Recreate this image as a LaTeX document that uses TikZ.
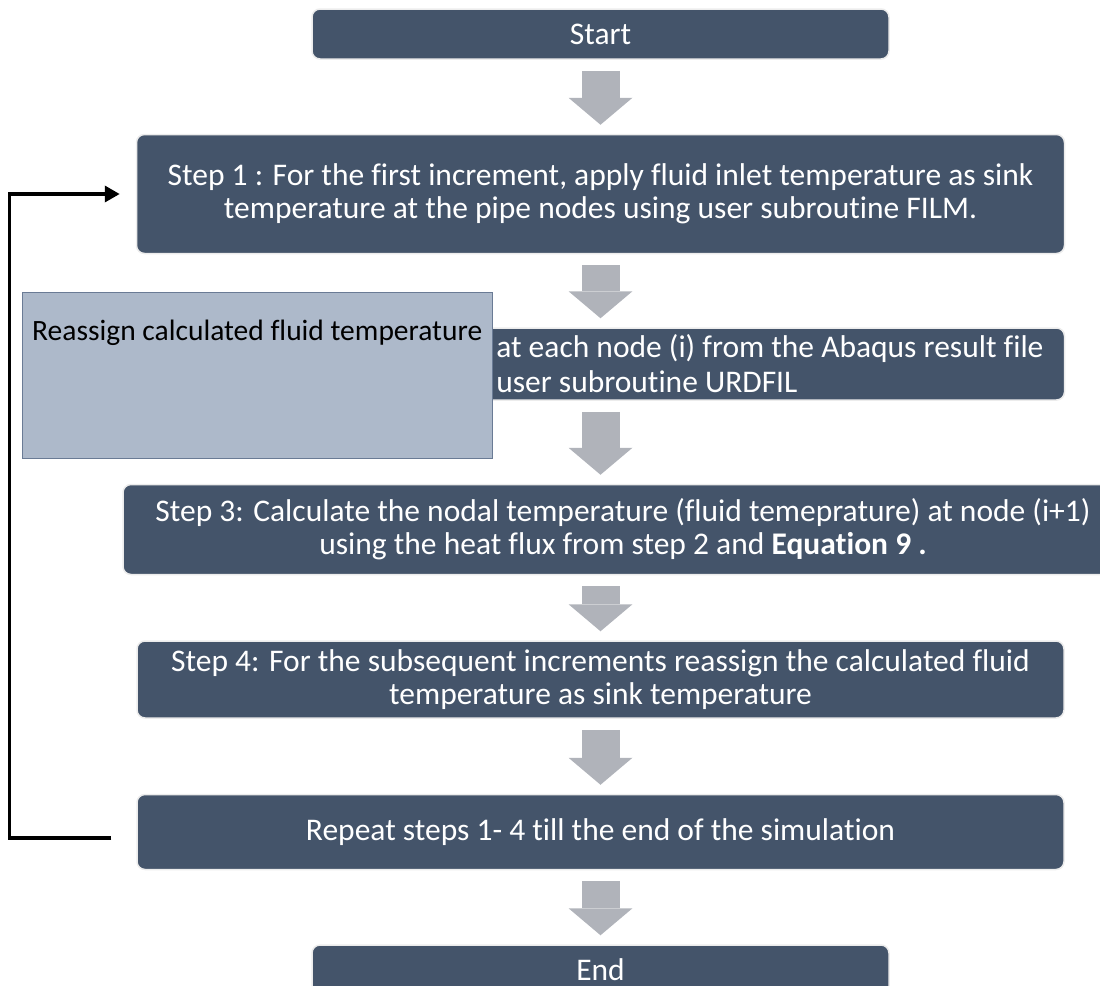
\documentclass[tikz,border=0pt]{standalone}
\usepackage{fontspec}
\setmainfont{Carlito}[Ligatures=NoCommon]
\usetikzlibrary{positioning,calc,arrows.meta}
\definecolor{boxblue}{HTML}{44546A}
\definecolor{noteblue}{HTML}{ADB9CA}
\definecolor{noteedge}{HTML}{6A7B95}
\definecolor{arrowgray}{HTML}{B0B3BA}
\tikzstyle{stepbox} = [rectangle, rounded corners=8pt, align=center, inner sep=3pt, draw=gray!15, line width=1.5pt, fill=boxblue, text=white, font=\fontsize{31.5}{33}\selectfont]
\tikzstyle{notebox} = [rectangle, draw=noteedge, line width=1pt, fill=noteblue]
\tikzstyle{blockarrow} = [draw=arrowgray, line width=38pt, -{Triangle[width=64pt,length=27pt,line width=0pt,fill=arrowgray]}, shorten <=11pt, shorten >=9pt]
\tikzstyle{loopline} = [line width=3.5pt, -{Triangle[length=15pt,width=16pt]}]

\begin{document}
\begin{tikzpicture}[x=1pt, y=1pt]
\useasboundingbox (0,0) rectangle (1100,-985);
\node (start) [stepbox, minimum width=577pt, minimum height=50pt] at (600.5,-34) {Start};
\node (step1) [stepbox, below=74pt of start, minimum width=928pt, minimum height=119pt] {Step 1 : For the first increment, apply fluid inlet temperature as sink\\temperature at the pipe nodes using user subroutine FILM.};
\node (step2) [stepbox, below=73pt of step1, minimum width=928pt, minimum height=72pt] {};
\node (step2text) [anchor=west, align=left, text=white, font=\fontsize{31.5}{35}\selectfont] at ([xshift=357pt]step2.west) {at each node (i) from the Abaqus result file\\user subroutine URDFIL};
\node (step3) [stepbox, below=83pt of step2, xshift=22.5pt, minimum width=1000pt, minimum height=90pt] {Step 3: Calculate the nodal temperature (fluid temeprature) at node (i+1)\\using the heat flux from step 2 and \textbf{Equation 9 .}};
\node (step4) [stepbox, below=65pt of step3, xshift=-22.5pt, minimum width=927pt, minimum height=77pt] {Step 4: For the subsequent increments reassign the calculated fluid\\temperature as sink temperature};
\node (repeat) [stepbox, below=75pt of step4, minimum width=927pt, minimum height=75pt] {Repeat steps 1- 4 till the end of the simulation};
\node (end) [stepbox, below=74pt of repeat, minimum width=577pt, minimum height=50pt] {End};

% overlay box on the left
\node (reassign) [notebox, anchor=north west, minimum width=470pt, minimum height=166pt] at (22,-292) {};
\node (reassigntext) [anchor=west, inner sep=0pt, font=\fontsize{29.5}{33}\selectfont] at ([xshift=10pt,yshift=-41pt]reassign.north west) {Reassign calculated fluid temperature};

\draw [blockarrow] (start.south) -- (step1.north -| start);
\draw [blockarrow] (step1.south -| start) -- (step2.north -| start);
\draw [blockarrow] (step2.south -| start) -- (step3.north -| start);
\draw [blockarrow] (step3.south -| start) -- (step4.north -| start);
\draw [blockarrow] (step4.south -| start) -- (repeat.north -| start);
\draw [blockarrow] (repeat.south -| start) -- (end.north -| start);

\draw [loopline] ([xshift=-25pt,yshift=-6pt]repeat.west) -- ++(-102,0) |- ([xshift=-16pt]step1.west);

\end{tikzpicture}
\end{document}
